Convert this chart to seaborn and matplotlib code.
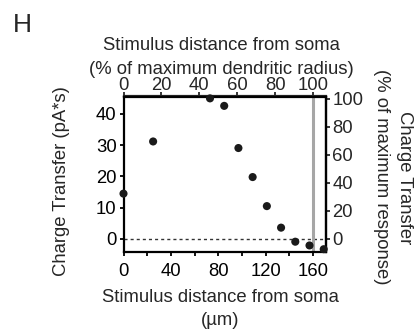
import matplotlib
matplotlib.use("Agg")
import matplotlib.pyplot as plt
import seaborn as sns
import pandas as pd

# Charge transfer vs. stimulus distance
distance_um = [0, 25, 73, 85, 97, 109, 121, 133, 145, 157, 169]
charge_pAs = [14.5, 31.2, 45.0, 42.6, 29.1, 19.8, 10.5, 3.6, -0.9, -2.1, -3.3]

max_radius_um = 160.0      # maximum dendritic radius
max_response = 44.8        # maximum charge transfer (pA*s)

bottom_ticks = [0, 20, 40, 60, 80, 100, 120, 140, 160]
bottom_labels = ["0", "", "40", "", "80", "", "120", "", "160"]
top_ticks = [0, 20, 40, 60, 80, 100]
left_ticks = [0, 10, 20, 30, 40]
right_ticks = [0, 20, 40, 60, 80, 100]

df = pd.DataFrame({"distance": distance_um, "charge": charge_pAs})

FS = 13.3
W, H = 420, 335

sns.set_style("ticks")
plt.rcParams["font.family"] = ["Liberation Sans", "DejaVu Sans"]
plt.rcParams["font.size"] = FS

fig = plt.figure(figsize=(W / 100, H / 100), dpi=100)
ax = fig.add_axes([123.5 / W, 1 - 251.7 / H, 202 / W, 155.2 / H])

ax.axhline(0, color="#333333", lw=1.0, ls=(0, (2.2, 2.2)), zorder=1)
ax.axvline(max_radius_um, color="#a6a6a6", lw=2.2, zorder=1)
sns.scatterplot(data=df, x="distance", y="charge", ax=ax, color="#1a1a1a",
                s=34, edgecolor="none", clip_on=False, zorder=3, legend=False)

ax.set_xlim(0, 170.5)
ax.set_ylim(-4.1, 45.6)
ax.set_xticks(bottom_ticks)
ax.set_xticklabels(bottom_labels)
ax.set_yticks(left_ticks)

for sp in ax.spines.values():
    sp.set_visible(True)
    sp.set_linewidth(1.6)
    sp.set_color("black")
ax.tick_params(direction="out", length=3, width=1.3, labelsize=FS, colors="black")
ax.tick_params(axis="x", pad=5)
ax.tick_params(axis="y", pad=2)

ax.set_xlabel("Stimulus distance from soma\n(µm)", fontsize=FS, linespacing=1.5)
ax.xaxis.set_label_coords(0.478, -0.238, transform=ax.transAxes)
ax.xaxis.label.set_va("top")
ax.set_ylabel("Charge Transfer (pA*s)", fontsize=FS)
ax.yaxis.set_label_coords(-0.265, 0.452)

# top axis: distance as a percentage of the maximum dendritic radius
top = ax.secondary_xaxis("top", functions=(lambda x: x / max_radius_um * 100,
                                           lambda p: p * max_radius_um / 100))
top.set_xticks(top_ticks)
top.spines["top"].set_linewidth(1.6)
top.tick_params(direction="out", length=3, width=1.3, labelsize=FS, pad=-1.5)
fig.text(221 / W, 1 - 50 / H, "Stimulus distance from soma",
         fontsize=FS, ha="center", va="baseline")
fig.text(221 / W, 1 - 74 / H, "(% of maximum dendritic radius)",
         fontsize=FS, ha="center", va="baseline")

# right axis: charge transfer as a percentage of the maximum response
right = ax.secondary_yaxis("right", functions=(lambda y: y / max_response * 100,
                                               lambda p: p * max_response / 100))
right.set_yticks(right_ticks)
right.spines["right"].set_linewidth(1.6)
right.tick_params(direction="out", length=3, width=1.3, labelsize=FS, pad=2)
right.set_ylabel("Charge Transfer\n(% of maximum response)", fontsize=FS,
                 rotation=270, va="bottom", linespacing=1.45, labelpad=7)
right.yaxis.label.set_y(0.48)

fig.text(13 / W, 1 - 32 / H, "H", fontsize=19, ha="left", va="baseline")

fig.savefig("out.png", dpi=100)
